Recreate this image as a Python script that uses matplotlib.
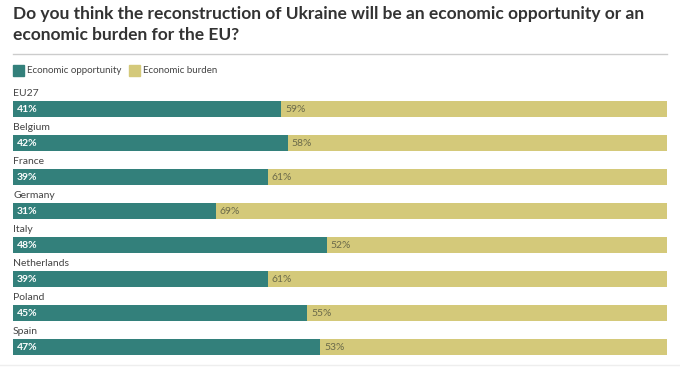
import matplotlib
matplotlib.use("Agg")
import matplotlib.pyplot as plt
from matplotlib.patches import Rectangle
from matplotlib.lines import Line2D

countries = ["EU27", "Belgium", "France", "Germany", "Italy", "Netherlands", "Poland", "Spain"]
opportunity = [41, 42, 39, 31, 48, 39, 45, 47]
burden = [59, 58, 61, 69, 52, 61, 55, 53]
series_names = ["Economic opportunity", "Economic burden"]
title = "Do you think the reconstruction of Ukraine will be an economic opportunity or an\neconomic burden for the EU?"

teal = "#33807b"
yellow = "#d4c97a"
W, H = 680, 367
fig = plt.figure(figsize=(W / 100, H / 100), dpi=100)
plt.rcParams['font.family'] = ['Lato', 'DejaVu Sans']

# title
fig.text(13 / W, 1 - 6 / H, title, ha="left", va="top", fontsize=12.5, fontweight="bold",
         color="#333333", linespacing=1.35)
fig.add_artist(Line2D([13 / W, 667 / W], [1 - 54 / H, 1 - 54 / H], color="#cccccc", lw=1))

# legend
lx = 13
for name, col in zip(series_names, [teal, yellow]):
    fig.add_artist(Rectangle((lx / W, 1 - 76 / H), 11 / W, 11 / H, color=col, transform=fig.transFigure))
    t = fig.text((lx + 14) / W, 1 - 70.5 / H, name, ha="left", va="center", fontsize=7, color="#444444")
    fig.canvas.draw()
    bb = t.get_window_extent()
    lx = bb.x1 + 8

# bars
top_px, bot_px = 75, 360
ax = fig.add_axes([13 / W, 1 - bot_px / H, 654 / W, (bot_px - top_px) / H])
unit = 34
c0 = 109
ax.set_xlim(0, 100)
ax.set_ylim((bot_px - c0) / unit, -(c0 - top_px) / unit)
ax.axis("off")
ys = list(range(len(countries)))
ax.barh(ys, opportunity, height=16 / unit, color=teal, edgecolor="none")
ax.barh(ys, burden, left=opportunity, height=16 / unit, color=yellow, edgecolor="none")
for i, (c, o, b) in enumerate(zip(countries, opportunity, burden)):
    ax.text(0, i - 16 / unit, c, ha="left", va="center", fontsize=7.5, color="#444444")
    ax.text(0.6, i, f"{o}%", ha="left", va="center", fontsize=7.5, color="white", fontweight="bold")
    ax.text(o + 0.6, i, f"{b}%", ha="left", va="center", fontsize=7.5, color="#6b6a4a")

fig.add_artist(Line2D([0, 1], [1 - 365 / H, 1 - 365 / H], color="#eeeeee", lw=1))
fig.savefig("out.png", dpi=100)
